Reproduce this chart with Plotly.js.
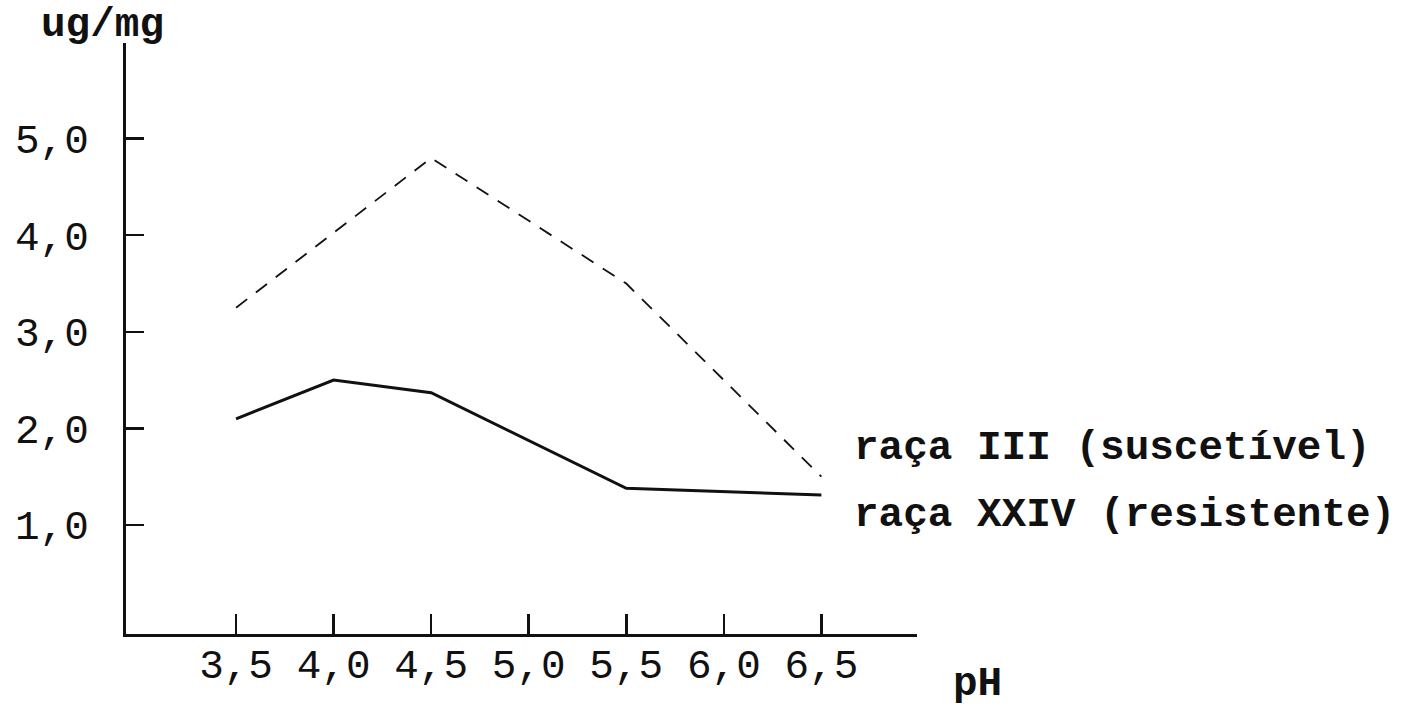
<!DOCTYPE html>
<html>
<head>
<meta charset="utf-8">
<script src="https://cdn.plot.ly/plotly-3.0.1.min.js"></script>
<style>html,body{margin:0;padding:0;background:#fff;}#chart{width:1417px;height:707px;}</style>
</head>
<body>
<div id="chart"></div>
<script>
// Data
const phSusceptible = [3.5, 4.5, 5.5, 6.5];
const valSusceptible = [3.25, 4.8, 3.5, 1.5];
const phResistant = [3.5, 4.0, 4.5, 5.5, 6.5];
const valResistant = [2.1, 2.5, 2.37, 1.38, 1.31];
const seriesNames = ["raça III (suscetível)", "raça XXIV (resistente)"];
const xTickVals = [3.5, 4.0, 4.5, 5.0, 5.5, 6.0, 6.5];
const xTickText = ["3,5", "4,0", "4,5", "5,0", "5,5", "6,0", "6,5"];
const yTickVals = [1, 2, 3, 4, 5];
const yTickText = ["1,0", "2,0", "3,0", "4,0", "5,0"];
const yUnit = "ug/mg";
const xUnit = "pH";

const mono = "Liberation Mono, Courier New, DejaVu Sans Mono, monospace";

const traces = [
  {x: phSusceptible, y: valSusceptible, name: seriesNames[0], mode: 'lines',
   line: {color: '#111', width: 1.8, dash: '14px,11px'}},
  {x: phResistant, y: valResistant, name: seriesNames[1], mode: 'lines',
   line: {color: '#111', width: 3}}
];

const layout = {
  width: 1417, height: 707,
  margin: {l: 126, r: 500, t: 43, b: 73},
  paper_bgcolor: '#fff', plot_bgcolor: '#fff',
  showlegend: false,
  xaxis: {
    range: [2.936, 6.99], tickvals: xTickVals, ticktext: xTickText,
    showgrid: false, zeroline: false, showline: true, linecolor: '#111', linewidth: 3,
    ticks: 'inside', ticklen: 20, tickwidth: 2.5, tickcolor: '#111',
    tickfont: {family: mono, size: 41, color: '#111'}, ticklabelstandoff: -8
  },
  yaxis: {
    range: [-0.128, 5.99], tickvals: yTickVals, ticktext: yTickText,
    showgrid: false, zeroline: false, showline: true, linecolor: '#111', linewidth: 3,
    ticks: 'inside', ticklen: 18, tickwidth: 2.5, tickcolor: '#111',
    tickfont: {family: mono, size: 41, color: '#111'}, ticklabelstandoff: 26
  },
  annotations: [
    {text: seriesNames[0], xref: 'x', yref: 'y', x: 6.655, y: 1.80, xanchor: 'left', yanchor: 'middle',
     showarrow: false, font: {family: mono, size: 41, color: '#111', weight: 'bold'}},
    {text: seriesNames[1], xref: 'x', yref: 'y', x: 6.655, y: 1.10, xanchor: 'left', yanchor: 'middle',
     showarrow: false, font: {family: mono, size: 41, color: '#111', weight: 'bold'}},
    {text: yUnit, xref: 'paper', yref: 'paper', x: -0.03, y: 1.03, xanchor: 'center', yanchor: 'middle',
     showarrow: false, font: {family: mono, size: 41, color: '#111', weight: 'bold'}},
    {text: xUnit, xref: 'paper', yref: 'paper', x: 1.077, y: -0.085, xanchor: 'center', yanchor: 'middle',
     showarrow: false, font: {family: mono, size: 41, color: '#111', weight: 'bold'}}
  ]
};

Plotly.newPlot('chart', traces, layout, {displayModeBar: false, staticPlot: true});
</script>
</body>
</html>
